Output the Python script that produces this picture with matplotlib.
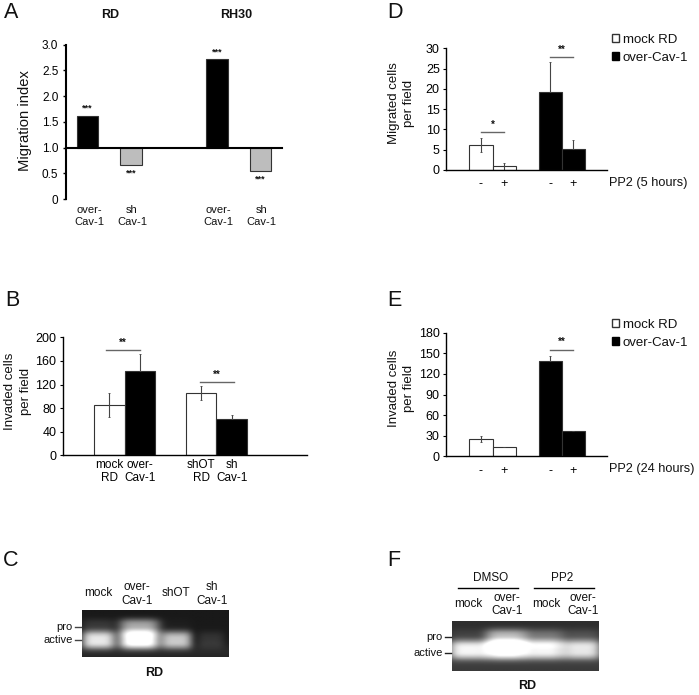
#!/usr/bin/env python3
import matplotlib
matplotlib.use("Agg")
import matplotlib.pyplot as plt
import numpy as np
from matplotlib.patches import Patch

W, H = 699, 695
plt.rcParams["font.family"] = ["Liberation Sans", "DejaVu Sans"]
plt.rcParams["text.color"] = "#111111"

# panel A
a_pos = [0, 1, 3, 4]
a_vals = [1.62, 0.67, 2.72, 0.54]
a_colors = ["black", "#bdbdbd", "black", "#bdbdbd"]
a_labels = ["over-\nCav-1", "sh\nCav-1", "over-\nCav-1", "sh\nCav-1"]
a_ticks = [0, 0.5, 1.0, 1.5, 2.0, 2.5, 3.0]
a_ticklabels = ["0", "0.5", "1.0", "1.5", "2.0", "2.5", "3.0"]

# panel B
b_pos = [0, 1, 3, 4]
b_vals = [85, 143, 105, 62]
b_low = [20, 0, 12, 0]
b_high = [20, 29, 12, 6]
b_colors = ["white", "black", "white", "black"]
b_labels = ["mock\nRD", "over-\nCav-1", "shOT\nRD", "sh\nCav-1"]
b_ticks = [0, 40, 80, 120, 160, 200]

# panel D
d_pos = [0, 1, 3, 4]
d_vals = [6.2, 0.9, 19.2, 5.1]
d_low = [1.8, 0.8, 0, 0]
d_high = [1.8, 0.8, 7.4, 2.3]
d_ticks = [0, 5, 10, 15, 20, 25, 30]

# panel E
e_pos = [0, 1, 3, 4]
e_vals = [25, 14, 139, 37]
e_low = [4, 0, 0, 0]
e_high = [4, 0, 7, 0]
e_ticks = [0, 30, 60, 90, 120, 150, 180]

pp2_labels = ["-", "+", "-", "+"]
de_colors = ["white", "white", "black", "black"]

# gel bands, one value per lane
c_lanes = [0.11, 0.39, 0.645, 0.88]
c_pro = [0.12, 0.55, 0.02, 0.0]
c_active = [0.8, 1.0, 0.68, 0.1]
c_widths = [0.115, 0.14, 0.105, 0.09]
f_lanes = [0.11, 0.37, 0.63, 0.885]
f_pro = [0.08, 0.55, 0.28, 0.14]
f_active = [0.78, 0.95, 0.78, 0.72]
f_widths = [0.135, 0.145, 0.135, 0.135]


def px_ax(left, top, right, bottom):
    return fig.add_axes([left / W, 1 - bottom / H, (right - left) / W, (bottom - top) / H])


def put(x, y, s, **kw):
    kw.setdefault("ha", "center")
    kw.setdefault("va", "center")
    kw.setdefault("fontsize", 8.5)
    fig.text(x / W, 1 - y / H, s, **kw)


def line(x0, x1, y0, y1, color="black", lw=1.0):
    fig.add_artist(plt.Line2D([x0 / W, x1 / W], [1 - y0 / H, 1 - y1 / H], color=color, lw=lw))


def style_axis(ax, lw=1.0):
    ax.spines["top"].set_visible(False)
    ax.spines["right"].set_visible(False)
    ax.spines["left"].set_linewidth(lw)
    ax.spines["bottom"].set_linewidth(lw)
    ax.patch.set_alpha(0)


def bars(ax, pos, vals, low, high, colors, ticks, labels, xlim, edge="#333333"):
    ax.bar(pos, vals, width=1.0, color=colors, edgecolor=edge, linewidth=0.8)
    ax.errorbar(pos, vals, yerr=[low, high], fmt="none", ecolor="#444444", elinewidth=0.8,
                capsize=1, capthick=0.6)
    ax.set_xlim(*xlim)
    ax.set_ylim(ticks[0], ticks[-1])
    ax.set_yticks(ticks)
    ax.set_xticks(pos)
    ax.set_xticklabels(labels, linespacing=1.1)
    ax.tick_params(axis="x", length=0, pad=3, labelsize=8.5)
    ax.tick_params(axis="y", length=2.5, width=0.8, pad=2, labelsize=9)
    style_axis(ax)


def sig(ax, x0, x1, y, stars, off):
    ax.plot([x0, x1], [y, y], color="#666666", lw=1.0, clip_on=False)
    ax.text((x0 + x1) / 2, y + off, stars, ha="center", va="center", fontsize=7, fontweight="bold")


def key(ax, anchor_y):
    ax.legend(handles=[Patch(facecolor="white", edgecolor="#333333", label="mock RD"),
                       Patch(facecolor="black", edgecolor="black", label="over-Cav-1")],
              loc="upper left", bbox_to_anchor=(1.0, anchor_y), frameon=False, fontsize=9.5,
              handlelength=0.55, handleheight=0.55, handletextpad=0.25, labelspacing=0.45,
              borderpad=0, borderaxespad=0.4)


def gel(ax, lanes, pro, active, widths, pro_y, active_y, bg):
    ny, nx = 60, 180
    yy, xx = np.mgrid[0:1:ny * 1j, 0:1:nx * 1j]
    img = np.full((ny, nx), bg) + 0.06 * np.exp(-((yy - 0.9) / 0.2) ** 2)
    for c, p, a, w in zip(lanes, pro, active, widths):
        shape = np.exp(-(np.abs(xx - c) / w) ** 4)
        img = img + p * shape * np.exp(-(np.abs(yy - pro_y) / 0.17) ** 3)
        img = img + a * shape * np.exp(-(np.abs(yy - active_y) / 0.19) ** 3)
    ax.imshow(img, cmap="gray", vmin=0, vmax=1, aspect="auto", extent=[0, 1, 1, 0],
              interpolation="bilinear")
    ax.set_xticks([])
    ax.set_yticks([])
    for s in ax.spines.values():
        s.set_visible(False)


fig = plt.figure(figsize=(W / 100, H / 100), dpi=100, facecolor="white")

# A
ax = px_ax(66, 44.7, 282, 199)
ax.bar(a_pos, [v - 1 for v in a_vals], bottom=1, width=0.5, color=a_colors, edgecolor="#333333", linewidth=0.8)
ax.set_xlim(-0.5, 4.5)
ax.set_ylim(0, 3)
ax.set_yticks(a_ticks)
ax.set_yticklabels(a_ticklabels)
ax.set_xticks([])
ax.tick_params(axis="y", length=2.5, width=1, pad=3, labelsize=8.5)
style_axis(ax, 1.5)
ax.spines["bottom"].set_position(("data", 1))
for p, v, lab in zip(a_pos, a_vals, a_labels):
    y = v + 0.14 if v > 1 else v - 0.16
    ax.text(p, y, "***", ha="center", va="center", fontsize=6.5, fontweight="bold")
    ax.text(p + 0.03, -0.33, lab, ha="center", va="center", fontsize=8, linespacing=1.3, clip_on=False)
put(110, 15.5, "RD", fontweight="bold", fontsize=9)
put(236, 15.5, "RH30", fontweight="bold", fontsize=9)
put(25, 120.7, "Migration index", rotation=90, fontsize=10.6)

# B
ax = px_ax(62.7, 337.3, 307, 455.3)
bars(ax, b_pos, b_vals, b_low, b_high, b_colors, b_ticks, b_labels, (-1.53, 6.47))
sig(ax, -0.1, 1.0, 179, "**", 11)
sig(ax, 2.97, 4.07, 125, "**", 11)
put(17.7, 391, "Invaded cells\nper field", rotation=90, fontsize=9.5, linespacing=1.4)

# D
ax = px_ax(446, 48.3, 606.7, 170)
bars(ax, d_pos, d_vals, d_low, d_high, de_colors, d_ticks, pp2_labels, (-1.52, 5.46))
ax.tick_params(axis="x", labelsize=9, pad=6)
sig(ax, 0.02, 0.98, 9.45, "*", 1.6)
sig(ax, 3.0, 3.98, 27.9, "**", 1.8)
key(ax, 1.16)
put(609, 183, "PP2 (5 hours)", ha="left", fontsize=9.2)
put(401.7, 103, "Migrated cells\nper field", rotation=90, fontsize=9.5, linespacing=1.4)

# E
ax = px_ax(446, 332.7, 606.7, 456.3)
bars(ax, e_pos, e_vals, e_low, e_high, de_colors, e_ticks, pp2_labels, (-1.52, 5.46))
ax.tick_params(axis="x", labelsize=9, pad=6)
sig(ax, 3.0, 3.98, 155, "**", 11)
key(ax, 1.157)
put(609, 469, "PP2 (24 hours)", ha="left", fontsize=9.2)
put(401.7, 388, "Invaded cells\nper field", rotation=90, fontsize=9.5, linespacing=1.4)

# C
ax = px_ax(81.7, 610, 228.7, 657.3)
gel(ax, c_lanes, c_pro, c_active, c_widths, 0.37, 0.65, 0.1)
put(98, 593.5, "mock", fontsize=8.5)
put(136.7, 594, "over-\nCav-1", fontsize=8.5, linespacing=1.15)
put(176, 593.5, "shOT", fontsize=8.5)
put(212, 594, "sh\nCav-1", fontsize=8.5, linespacing=1.15)
put(72.5, 626.7, "pro", ha="right", fontsize=8)
put(72.5, 640, "active", ha="right", fontsize=8)
line(75.3, 81, 626.7, 626.7, "#444444")
line(75.3, 81, 640, 640, "#444444")
put(154, 673, "RD", fontweight="bold", fontsize=9)

# F
ax = px_ax(452.3, 621, 599.3, 671.3)
gel(ax, f_lanes, f_pro, f_active, f_widths, 0.34, 0.59, 0.18)
put(491, 577.7, "DMSO", fontsize=8.5)
put(562.3, 577.7, "PP2", fontsize=8.5)
line(457.7, 517.7, 587.7, 587.7, "black", 1.0)
line(534.3, 594.3, 587.7, 587.7, "black", 1.0)
put(468, 604, "mock", fontsize=8.5)
put(506.7, 604.5, "over-\nCav-1", fontsize=8.5, linespacing=1.15)
put(546, 604, "mock", fontsize=8.5)
put(583, 604.5, "over-\nCav-1", fontsize=8.5, linespacing=1.15)
put(442.7, 637, "pro", ha="right", fontsize=8)
put(442.7, 652.7, "active", ha="right", fontsize=8)
line(445, 451, 637, 637, "#222222")
line(445, 451, 652.7, 652.7, "#222222")
put(527, 686, "RD", fontweight="bold", fontsize=9)

# panel letters
for x, y, s in [(4, 12.7, "A"), (5, 300, "B"), (3, 560.7, "C"), (387, 12.7, "D"), (387, 300, "E"), (387, 560.7, "F")]:
    put(x, y, s, ha="left", fontsize=15.5)

fig.savefig("out.png", dpi=100)
